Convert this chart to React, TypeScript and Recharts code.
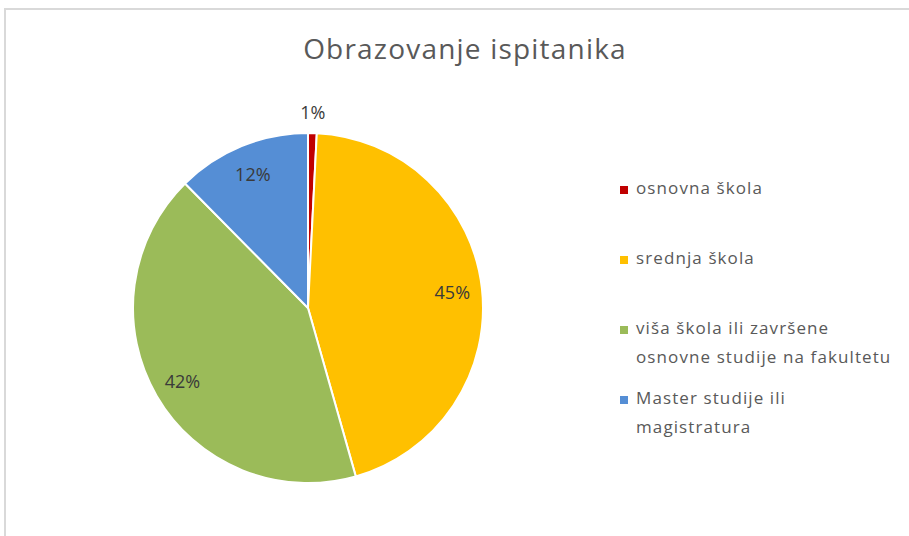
import React from 'react'
import { PieChart, Pie, Cell, Legend } from 'recharts'

const categories = [
  'osnovna škola',
  'srednja škola',
  'viša škola ili završene osnovne studije na fakultetu',
  'Master studije ili magistratura'
]
const legendLines = [
  ['osnovna škola'],
  ['srednja škola'],
  ['viša škola ili završene', 'osnovne studije na fakultetu'],
  ['Master studije ili', 'magistratura']
]
const shares = [0.8, 44.8, 42.0, 12.4]
const colors = ['#C00000', '#FFC000', '#9BBB59', '#558ED5']

const data = categories.map((name, i) => ({ name, value: shares[i] }))

const RAD = Math.PI / 180
const FONT = '"Open Sans", "Noto Sans", sans-serif'

function renderLabel(props: any) {
  const { cx, cy, midAngle, outerRadius, percent } = props
  const r = percent < 0.05 ? outerRadius + 21 : outerRadius * 0.83
  const x = cx + r * Math.cos(-midAngle * RAD)
  const y = cy + r * Math.sin(-midAngle * RAD)
  return (
    <text x={x} y={y} fill="#3a3a3a" fontSize={18} fontFamily={FONT} textAnchor="middle" dominantBaseline="central">
      {Math.round(percent * 100) + '%'}
    </text>
  )
}

function LegendBox() {
  return (
    <div style={{ fontFamily: FONT, fontSize: 17, color: '#595959', letterSpacing: 1.1 }}>
      {legendLines.map((lines, i) => (
        <div key={i} style={{ position: 'absolute', left: 0, top: i * 70, display: 'flex' }}>
          <span style={{ width: 8, height: 8, background: colors[i], marginTop: 8, marginRight: 8, flexShrink: 0 }} />
          <div style={{ lineHeight: '29px', marginTop: -5 }}>
            {lines.map((l, j) => <div key={j} style={{ whiteSpace: 'nowrap' }}>{l}</div>)}
          </div>
        </div>
      ))}
    </div>
  )
}

export default function App() {
  return (
    <div style={{ position: 'absolute', left: 0, top: 0, width: 909, height: 536, overflow: 'hidden', background: '#fff' }}>
      <div style={{ position: 'absolute', left: 4, top: 8, width: 960, height: 600, border: '2px solid #d9d9d9' }} />
      <div style={{ position: 'absolute', left: 0, top: 29, width: 930, textAlign: 'center', fontFamily: FONT, fontSize: 28, color: '#595959', letterSpacing: 1.2 }}>
        Obrazovanje ispitanika
      </div>
      <PieChart width={909} height={536} margin={{ top: 0, right: 0, bottom: 0, left: 0 }} style={{ position: 'absolute', left: 0, top: 0 }}>
        <Pie
          data={data}
          dataKey="value"
          nameKey="name"
          cx={308}
          cy={308}
          outerRadius={175}
          startAngle={90}
          endAngle={-270}
          stroke="#fff"
          strokeWidth={2}
          label={renderLabel}
          labelLine={false}
          isAnimationActive={false}
        >
          {data.map((_, i) => <Cell key={i} fill={colors[i]} />)}
        </Pie>
        <Legend content={() => <LegendBox />} wrapperStyle={{ position: 'absolute', left: 620, top: 178, width: 280, height: 260 }} />
      </PieChart>
    </div>
  )
}
